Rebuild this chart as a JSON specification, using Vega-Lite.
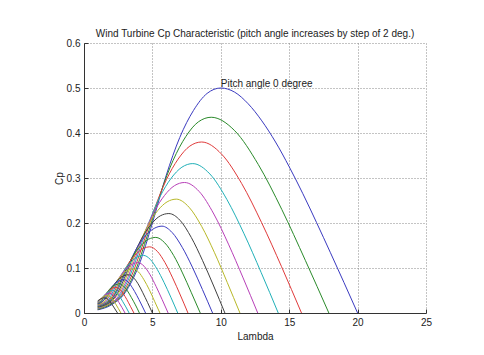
{
  "$schema": "https://vega.github.io/schema/vega-lite/v6.json",
  "width": 342,
  "height": 270,
  "autosize": {"type": "none"},
  "padding": {"left": 84, "top": 43, "right": 58, "bottom": 42},
  "background": "white",
  "title": {"text": "Wind Turbine Cp Characteristic (pitch angle increases by step of 2 deg.)", "fontSize": 10, "fontWeight": "normal", "font": "Liberation Sans", "color": "#222222", "offset": 6, "dy": 7, "anchor": "middle"},
  "config": {
    "view": {"stroke": null},
    "axis": {
      "labelFont": "Liberation Sans", "labelFontSize": 10, "labelColor": "#222222",
      "titleFont": "Liberation Sans", "titleFontSize": 10, "titleFontWeight": "normal", "titleColor": "#222222",
      "grid": true, "gridDash": [1, 2], "gridColor": "#888888", "gridWidth": 1, "gridOpacity": 1,
      "domainColor": "#333333", "domainWidth": 1, "tickColor": "#333333", "tickSize": -4, "labelPadding": 8,
      "labelFlush": false
    }
  },
  "layer": [
    {
      "data": {"values": [
        {"beta":0,"lambda":1,"cp":0.007},{"beta":0,"lambda":2,"cp":0.018},{"beta":0,"lambda":3,"cp":0.045},{"beta":0,"lambda":4,"cp":0.105},{"beta":0,"lambda":5,"cp":0.2},{"beta":0,"lambda":6,"cp":0.305},{"beta":0,"lambda":7,"cp":0.39},{"beta":0,"lambda":8,"cp":0.45},{"beta":0,"lambda":9,"cp":0.488},{"beta":0,"lambda":10,"cp":0.5},{"beta":0,"lambda":11,"cp":0.491},{"beta":0,"lambda":12,"cp":0.465},{"beta":0,"lambda":13,"cp":0.427},{"beta":0,"lambda":14,"cp":0.38},{"beta":0,"lambda":15,"cp":0.325},{"beta":0,"lambda":16,"cp":0.265},{"beta":0,"lambda":17,"cp":0.201},{"beta":0,"lambda":18,"cp":0.135},{"beta":0,"lambda":19,"cp":0.068},{"beta":0,"lambda":20,"cp":0},
        {"beta":2,"lambda":1,"cp":0.008},{"beta":2,"lambda":2,"cp":0.02},{"beta":2,"lambda":2.79,"cp":0.039},{"beta":2,"lambda":3.72,"cp":0.091},{"beta":2,"lambda":4.65,"cp":0.174},{"beta":2,"lambda":5.58,"cp":0.265},{"beta":2,"lambda":6.51,"cp":0.339},{"beta":2,"lambda":7.44,"cp":0.392},{"beta":2,"lambda":8.37,"cp":0.425},{"beta":2,"lambda":9.3,"cp":0.435},{"beta":2,"lambda":11.02,"cp":0.405},{"beta":2,"lambda":12.74,"cp":0.33},{"beta":2,"lambda":14.46,"cp":0.23},{"beta":2,"lambda":16.18,"cp":0.117},{"beta":2,"lambda":17.9,"cp":0},
        {"beta":4,"lambda":1,"cp":0.009},{"beta":4,"lambda":2,"cp":0.022},{"beta":4,"lambda":2.58,"cp":0.034},{"beta":4,"lambda":3.44,"cp":0.08},{"beta":4,"lambda":4.3,"cp":0.152},{"beta":4,"lambda":5.16,"cp":0.232},{"beta":4,"lambda":6.02,"cp":0.296},{"beta":4,"lambda":6.88,"cp":0.342},{"beta":4,"lambda":7.74,"cp":0.371},{"beta":4,"lambda":8.6,"cp":0.38},{"beta":4,"lambda":10.06,"cp":0.353},{"beta":4,"lambda":11.52,"cp":0.288},{"beta":4,"lambda":12.98,"cp":0.201},{"beta":4,"lambda":14.44,"cp":0.103},{"beta":4,"lambda":15.9,"cp":0},
        {"beta":6,"lambda":1,"cp":0.01},{"beta":6,"lambda":2,"cp":0.023},{"beta":6,"lambda":2.385,"cp":0.03},{"beta":6,"lambda":3.18,"cp":0.07},{"beta":6,"lambda":3.975,"cp":0.133},{"beta":6,"lambda":4.77,"cp":0.203},{"beta":6,"lambda":5.565,"cp":0.259},{"beta":6,"lambda":6.36,"cp":0.299},{"beta":6,"lambda":7.155,"cp":0.324},{"beta":6,"lambda":7.95,"cp":0.332},{"beta":6,"lambda":9.2,"cp":0.309},{"beta":6,"lambda":10.45,"cp":0.252},{"beta":6,"lambda":11.7,"cp":0.176},{"beta":6,"lambda":12.95,"cp":0.09},{"beta":6,"lambda":14.2,"cp":0},
        {"beta":8,"lambda":1,"cp":0.011},{"beta":8,"lambda":2,"cp":0.024},{"beta":8,"lambda":2.205,"cp":0.027},{"beta":8,"lambda":2.94,"cp":0.061},{"beta":8,"lambda":3.675,"cp":0.116},{"beta":8,"lambda":4.41,"cp":0.177},{"beta":8,"lambda":5.145,"cp":0.226},{"beta":8,"lambda":5.88,"cp":0.261},{"beta":8,"lambda":6.615,"cp":0.283},{"beta":8,"lambda":7.35,"cp":0.29},{"beta":8,"lambda":8.42,"cp":0.27},{"beta":8,"lambda":9.49,"cp":0.22},{"beta":8,"lambda":10.56,"cp":0.153},{"beta":8,"lambda":11.63,"cp":0.078},{"beta":8,"lambda":12.7,"cp":0},
        {"beta":10,"lambda":1,"cp":0.012},{"beta":10,"lambda":2,"cp":0.025},{"beta":10,"lambda":2.7,"cp":0.053},{"beta":10,"lambda":3.375,"cp":0.101},{"beta":10,"lambda":4.05,"cp":0.154},{"beta":10,"lambda":4.725,"cp":0.197},{"beta":10,"lambda":5.4,"cp":0.228},{"beta":10,"lambda":6.075,"cp":0.247},{"beta":10,"lambda":6.75,"cp":0.253},{"beta":10,"lambda":7.68,"cp":0.235},{"beta":10,"lambda":8.61,"cp":0.192},{"beta":10,"lambda":9.54,"cp":0.134},{"beta":10,"lambda":10.47,"cp":0.068},{"beta":10,"lambda":11.4,"cp":0},
        {"beta":12,"lambda":1,"cp":0.013},{"beta":12,"lambda":2,"cp":0.027},{"beta":12,"lambda":2.48,"cp":0.046},{"beta":12,"lambda":3.1,"cp":0.088},{"beta":12,"lambda":3.72,"cp":0.135},{"beta":12,"lambda":4.34,"cp":0.172},{"beta":12,"lambda":4.96,"cp":0.199},{"beta":12,"lambda":5.58,"cp":0.216},{"beta":12,"lambda":6.2,"cp":0.221},{"beta":12,"lambda":7.02,"cp":0.206},{"beta":12,"lambda":7.84,"cp":0.168},{"beta":12,"lambda":8.66,"cp":0.117},{"beta":12,"lambda":9.48,"cp":0.06},{"beta":12,"lambda":10.3,"cp":0},
        {"beta":14,"lambda":1,"cp":0.014},{"beta":14,"lambda":2,"cp":0.029},{"beta":14,"lambda":2.28,"cp":0.041},{"beta":14,"lambda":2.85,"cp":0.077},{"beta":14,"lambda":3.42,"cp":0.118},{"beta":14,"lambda":3.99,"cp":0.151},{"beta":14,"lambda":4.56,"cp":0.174},{"beta":14,"lambda":5.13,"cp":0.188},{"beta":14,"lambda":5.7,"cp":0.193},{"beta":14,"lambda":6.44,"cp":0.179},{"beta":14,"lambda":7.18,"cp":0.146},{"beta":14,"lambda":7.92,"cp":0.102},{"beta":14,"lambda":8.66,"cp":0.052},{"beta":14,"lambda":9.4,"cp":0},
        {"beta":16,"lambda":1,"cp":0.015},{"beta":16,"lambda":2,"cp":0.031},{"beta":16,"lambda":2.625,"cp":0.067},{"beta":16,"lambda":3.15,"cp":0.102},{"beta":16,"lambda":3.675,"cp":0.131},{"beta":16,"lambda":4.2,"cp":0.151},{"beta":16,"lambda":4.725,"cp":0.164},{"beta":16,"lambda":5.25,"cp":0.168},{"beta":16,"lambda":5.9,"cp":0.156},{"beta":16,"lambda":6.55,"cp":0.128},{"beta":16,"lambda":7.2,"cp":0.089},{"beta":16,"lambda":7.85,"cp":0.045},{"beta":16,"lambda":8.5,"cp":0},
        {"beta":18,"lambda":1,"cp":0.016},{"beta":18,"lambda":1.92,"cp":0.031},{"beta":18,"lambda":2.4,"cp":0.059},{"beta":18,"lambda":2.88,"cp":0.09},{"beta":18,"lambda":3.36,"cp":0.115},{"beta":18,"lambda":3.84,"cp":0.132},{"beta":18,"lambda":4.32,"cp":0.143},{"beta":18,"lambda":4.8,"cp":0.147},{"beta":18,"lambda":5.36,"cp":0.137},{"beta":18,"lambda":5.92,"cp":0.112},{"beta":18,"lambda":6.48,"cp":0.078},{"beta":18,"lambda":7.04,"cp":0.04},{"beta":18,"lambda":7.6,"cp":0},
        {"beta":20,"lambda":1,"cp":0.017},{"beta":20,"lambda":1.74,"cp":0.027},{"beta":20,"lambda":2.175,"cp":0.051},{"beta":20,"lambda":2.61,"cp":0.078},{"beta":20,"lambda":3.045,"cp":0.1},{"beta":20,"lambda":3.48,"cp":0.115},{"beta":20,"lambda":3.915,"cp":0.125},{"beta":20,"lambda":4.35,"cp":0.128},{"beta":20,"lambda":4.85,"cp":0.119},{"beta":20,"lambda":5.35,"cp":0.097},{"beta":20,"lambda":5.85,"cp":0.068},{"beta":20,"lambda":6.35,"cp":0.035},{"beta":20,"lambda":6.85,"cp":0},
        {"beta":22,"lambda":1,"cp":0.018},{"beta":22,"lambda":1.58,"cp":0.025},{"beta":22,"lambda":1.975,"cp":0.045},{"beta":22,"lambda":2.37,"cp":0.068},{"beta":22,"lambda":2.765,"cp":0.087},{"beta":22,"lambda":3.16,"cp":0.101},{"beta":22,"lambda":3.555,"cp":0.109},{"beta":22,"lambda":3.95,"cp":0.112},{"beta":22,"lambda":4.39,"cp":0.104},{"beta":22,"lambda":4.83,"cp":0.085},{"beta":22,"lambda":5.27,"cp":0.059},{"beta":22,"lambda":5.71,"cp":0.03},{"beta":22,"lambda":6.15,"cp":0},
        {"beta":24,"lambda":1,"cp":0.019},{"beta":24,"lambda":1.44,"cp":0.024},{"beta":24,"lambda":1.8,"cp":0.039},{"beta":24,"lambda":2.16,"cp":0.06},{"beta":24,"lambda":2.52,"cp":0.076},{"beta":24,"lambda":2.88,"cp":0.088},{"beta":24,"lambda":3.24,"cp":0.096},{"beta":24,"lambda":3.6,"cp":0.098},{"beta":24,"lambda":3.99,"cp":0.091},{"beta":24,"lambda":4.38,"cp":0.074},{"beta":24,"lambda":4.77,"cp":0.052},{"beta":24,"lambda":5.16,"cp":0.026},{"beta":24,"lambda":5.55,"cp":0},
        {"beta":26,"lambda":1,"cp":0.02},{"beta":26,"lambda":1.3,"cp":0.024},{"beta":26,"lambda":1.625,"cp":0.034},{"beta":26,"lambda":1.95,"cp":0.052},{"beta":26,"lambda":2.275,"cp":0.066},{"beta":26,"lambda":2.6,"cp":0.077},{"beta":26,"lambda":2.925,"cp":0.083},{"beta":26,"lambda":3.25,"cp":0.085},{"beta":26,"lambda":3.6,"cp":0.079},{"beta":26,"lambda":3.95,"cp":0.065},{"beta":26,"lambda":4.3,"cp":0.045},{"beta":26,"lambda":4.65,"cp":0.023},{"beta":26,"lambda":5,"cp":0},
        {"beta":28,"lambda":1,"cp":0.021},{"beta":28,"lambda":1.45,"cp":0.03},{"beta":28,"lambda":1.74,"cp":0.045},{"beta":28,"lambda":2.03,"cp":0.058},{"beta":28,"lambda":2.32,"cp":0.067},{"beta":28,"lambda":2.61,"cp":0.072},{"beta":28,"lambda":2.9,"cp":0.074},{"beta":28,"lambda":3.22,"cp":0.069},{"beta":28,"lambda":3.54,"cp":0.056},{"beta":28,"lambda":3.86,"cp":0.039},{"beta":28,"lambda":4.18,"cp":0.02},{"beta":28,"lambda":4.5,"cp":0},
        {"beta":30,"lambda":1,"cp":0.022},{"beta":30,"lambda":1.3,"cp":0.028},{"beta":30,"lambda":1.56,"cp":0.04},{"beta":30,"lambda":1.82,"cp":0.051},{"beta":30,"lambda":2.08,"cp":0.059},{"beta":30,"lambda":2.34,"cp":0.063},{"beta":30,"lambda":2.6,"cp":0.065},{"beta":30,"lambda":2.89,"cp":0.06},{"beta":30,"lambda":3.18,"cp":0.049},{"beta":30,"lambda":3.47,"cp":0.034},{"beta":30,"lambda":3.76,"cp":0.018},{"beta":30,"lambda":4.05,"cp":0},
        {"beta":32,"lambda":1,"cp":0.023},{"beta":32,"lambda":1.41,"cp":0.035},{"beta":32,"lambda":1.645,"cp":0.044},{"beta":32,"lambda":1.88,"cp":0.051},{"beta":32,"lambda":2.115,"cp":0.056},{"beta":32,"lambda":2.35,"cp":0.057},{"beta":32,"lambda":2.61,"cp":0.053},{"beta":32,"lambda":2.87,"cp":0.043},{"beta":32,"lambda":3.13,"cp":0.03},{"beta":32,"lambda":3.39,"cp":0.015},{"beta":32,"lambda":3.65,"cp":0},
        {"beta":34,"lambda":1,"cp":0.024},{"beta":34,"lambda":1.26,"cp":0.031},{"beta":34,"lambda":1.47,"cp":0.039},{"beta":34,"lambda":1.68,"cp":0.045},{"beta":34,"lambda":1.89,"cp":0.049},{"beta":34,"lambda":2.1,"cp":0.05},{"beta":34,"lambda":2.34,"cp":0.047},{"beta":34,"lambda":2.58,"cp":0.038},{"beta":34,"lambda":2.82,"cp":0.026},{"beta":34,"lambda":3.06,"cp":0.0135},{"beta":34,"lambda":3.3,"cp":0},
        {"beta":36,"lambda":1,"cp":0.025},{"beta":36,"lambda":1.14,"cp":0.029},{"beta":36,"lambda":1.33,"cp":0.034},{"beta":36,"lambda":1.52,"cp":0.04},{"beta":36,"lambda":1.71,"cp":0.043},{"beta":36,"lambda":1.9,"cp":0.044},{"beta":36,"lambda":2.12,"cp":0.041},{"beta":36,"lambda":2.34,"cp":0.033},{"beta":36,"lambda":2.56,"cp":0.023},{"beta":36,"lambda":2.78,"cp":0.012},{"beta":36,"lambda":3,"cp":0},
        {"beta":38,"lambda":1,"cp":0.026},{"beta":38,"lambda":1.19,"cp":0.031},{"beta":38,"lambda":1.36,"cp":0.035},{"beta":38,"lambda":1.53,"cp":0.038},{"beta":38,"lambda":1.7,"cp":0.039},{"beta":38,"lambda":1.9,"cp":0.036},{"beta":38,"lambda":2.1,"cp":0.03},{"beta":38,"lambda":2.3,"cp":0.021},{"beta":38,"lambda":2.5,"cp":0.0105},{"beta":38,"lambda":2.7,"cp":0},
        {"beta":40,"lambda":1,"cp":0.027},{"beta":40,"lambda":1.2,"cp":0.031},{"beta":40,"lambda":1.35,"cp":0.033},{"beta":40,"lambda":1.5,"cp":0.034},{"beta":40,"lambda":1.69,"cp":0.032},{"beta":40,"lambda":1.88,"cp":0.026},{"beta":40,"lambda":2.07,"cp":0.018},{"beta":40,"lambda":2.26,"cp":0.009},{"beta":40,"lambda":2.45,"cp":0}
      ]},
      "mark": {"type": "line", "strokeWidth": 1, "interpolate": "monotone"},
      "encoding": {
        "x": {"field": "lambda", "type": "quantitative", "scale": {"domain": [0, 25], "nice": false}, "axis": {"title": "Lambda", "values": [0, 5, 10, 15, 20, 25], "titlePadding": 4}},
        "y": {"field": "cp", "type": "quantitative", "scale": {"domain": [0, 0.6], "nice": false}, "axis": {"title": "Cp", "values": [0, 0.1, 0.2, 0.3, 0.4, 0.5, 0.6], "format": ".1~f", "titlePadding": 2}},
        "color": {"field": "beta", "type": "nominal", "legend": null,
          "scale": {"domain": [0,2,4,6,8,10,12,14,16,18,20,22,24,26,28,30,32,34,36,38,40],
                    "range": ["#3a3ac0","#2a8a2a","#e03a3a","#20b0b8","#b840b8","#b8b828","#404040","#3a3ac0","#2a8a2a","#e03a3a","#20b0b8","#b840b8","#b8b828","#404040","#3a3ac0","#2a8a2a","#e03a3a","#20b0b8","#b840b8","#b8b828","#404040"]}}
      }
    },
    {
      "data": {"values": [{"lambda": 10, "cp": 0.51, "label": "Pitch angle 0 degree"}]},
      "mark": {"type": "text", "align": "left", "baseline": "middle", "fontSize": 10, "font": "Liberation Sans", "color": "#222222"},
      "encoding": {
        "x": {"field": "lambda", "type": "quantitative"},
        "y": {"field": "cp", "type": "quantitative"},
        "text": {"field": "label"}
      }
    }
  ]
}
